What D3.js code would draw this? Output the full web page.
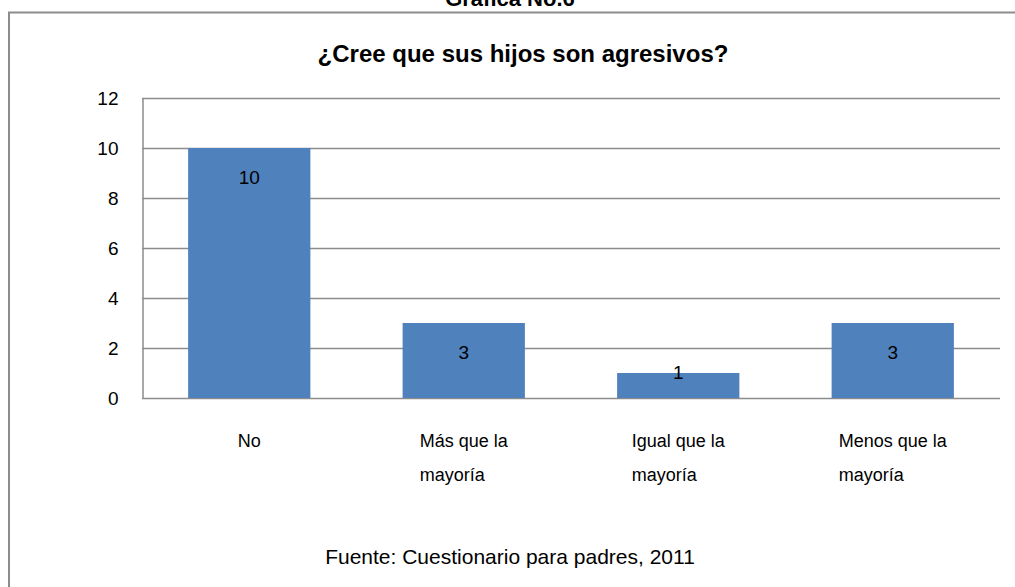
<!DOCTYPE html>
<html>
<head>
<meta charset="utf-8">
<script src="https://cdn.jsdelivr.net/npm/d3@7"></script>
<style>
  body { margin: 0; background: #fff; }
  text { font-family: "Liberation Sans", "Noto Sans", sans-serif; fill: #000; }
</style>
</head>
<body>
<div id="chart"></div>
<script>
var categories = ["No", "Más que la|mayoría", "Igual que la|mayoría", "Menos que la|mayoría"];
var values = [10, 3, 1, 3];
var yTicks = [0, 2, 4, 6, 8, 10, 12];

var width = 1015, height = 587;
var margin = {left: 142, right: 15, top: 98, bottom: 189};

var svg = d3.select("#chart").append("svg")
    .attr("width", width)
    .attr("height", height);

// outer frame (bottom edge is cut off in the picture)
svg.append("path")
    .attr("d", "M9,600 V12.5 H1020")
    .attr("fill", "none")
    .attr("stroke", "#8c8c8c")
    .attr("stroke-width", 2);

// heading above the frame, cut off at the top like in the source
svg.append("text")
    .attr("x", 510).attr("y", 6)
    .attr("text-anchor", "middle")
    .style("font-weight", "bold")
    .style("font-size", "22px")
    .text("Gráfica No.6");

svg.append("text")
    .attr("x", 523).attr("y", 62)
    .attr("text-anchor", "middle")
    .style("font-weight", "bold")
    .style("font-size", "24px")
    .text("¿Cree que sus hijos son agresivos?");

var x = d3.scaleBand()
    .domain(categories)
    .range([margin.left, width - margin.right])
    .paddingInner(0.43)
    .paddingOuter(0.215);

var y = d3.scaleLinear()
    .domain([0, 12])
    .range([height - margin.bottom, margin.top]);

// grid lines
svg.append("g")
    .selectAll("line")
    .data(yTicks)
    .enter().append("line")
    .attr("x1", margin.left)
    .attr("x2", width - margin.right)
    .attr("y1", function(d) { return Math.round(y(d)) + 0.5; })
    .attr("y2", function(d) { return Math.round(y(d)) + 0.5; })
    .attr("stroke", "#8c8c8c")
    .attr("stroke-width", 1.5);

// y axis
var yAxis = svg.append("g")
    .attr("transform", "translate(" + (margin.left + 0.5) + ",0)")
    .call(d3.axisLeft(y).tickValues(yTicks).tickSize(0).tickPadding(24));
yAxis.select(".domain").attr("stroke", "#8c8c8c").attr("stroke-width", 1.5);
yAxis.selectAll("text")
    .style("font-size", "19px")
    .style("font-family", "'Liberation Sans', sans-serif")
    .attr("fill", "#000")
    .attr("dy", "0.35em");

// bars
svg.append("g")
    .selectAll("rect")
    .data(values)
    .enter().append("rect")
    .attr("x", function(d, i) { return x(categories[i]); })
    .attr("y", function(d) { return y(d); })
    .attr("width", x.bandwidth())
    .attr("height", function(d) { return y(0) - y(d); })
    .attr("fill", "#4f81bd");

// value labels
svg.append("g")
    .selectAll("text")
    .data(values)
    .enter().append("text")
    .attr("x", function(d, i) { return x(categories[i]) + x.bandwidth() / 2; })
    .attr("y", function(d) { return Math.min(y(d) + 29, y(0) - 26); })
    .attr("dy", "0.35em")
    .attr("text-anchor", "middle")
    .style("font-size", "19px")
    .text(function(d) { return d; });

// category labels, second line aligned under the first one's start
svg.append("g")
    .selectAll("text")
    .data(categories)
    .enter().append("text")
    .attr("y", 447)
    .style("font-size", "18px")
    .each(function(d) {
        var lines = d.split("|");
        var t = d3.select(this);
        var cx = x(d) + x.bandwidth() / 2;
        var first = t.append("tspan").text(lines[0]);
        var w = first.node().getComputedTextLength();
        first.attr("x", cx - w / 2);
        if (lines[1]) {
            t.append("tspan")
                .attr("x", cx - w / 2)
                .attr("dy", 34)
                .text(lines[1]);
        }
    });

svg.append("text")
    .attr("x", 510).attr("y", 564)
    .attr("text-anchor", "middle")
    .style("font-size", "21px")
    .text("Fuente: Cuestionario para padres, 2011");
</script>
</body>
</html>
